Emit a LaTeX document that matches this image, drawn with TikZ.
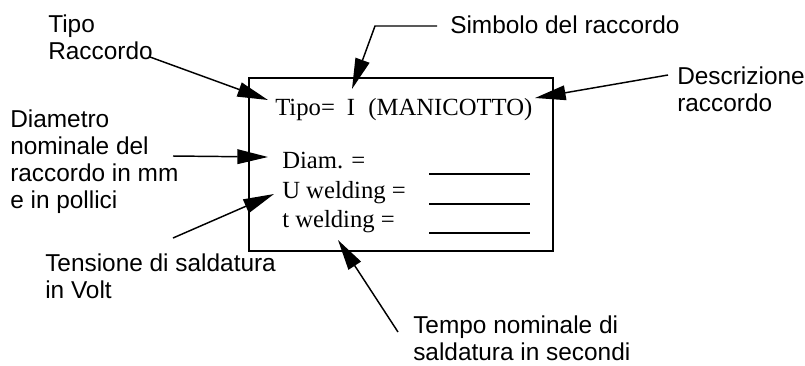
\documentclass[tikz,border=0pt]{standalone}
\usepackage{fontspec}
\setmainfont{Liberation Serif}
\newfontfamily\lblfont{Liberation Sans}
\usetikzlibrary{arrows.meta}
\tikzset{
  callout/.style={font=\lblfont\fontsize{18.3}{20.2}\selectfont, anchor=north west, inner sep=0pt, align=left},
  field/.style={font=\fontsize{18.5}{21}\selectfont, anchor=base west, inner sep=0pt},
  pointer/.style={line width=1.1pt, -{Triangle[length=23pt,width=11pt]}},
  blank/.style={line width=1.5pt}
}
\begin{document}
\begin{tikzpicture}[x=0.75pt,y=0.75pt,yscale=-1]
\useasboundingbox (0,0) rectangle (805,365);

%Shape: Rectangle
\draw [line width=1.6pt] (249,78) rectangle (553,251) ;

% Text Node
\draw (275,115) node [field] (tipo) {Tipo=\hspace{9pt}I\hspace{10pt}(MANICOTTO)};
% Text Node
\draw (282,168) node [field] (diam) {Diam. =};
% Text Node
\draw (282,198) node [field] (uweld) {U welding =};
% Text Node
\draw (282,227) node [field] (tweld) {t welding =};

%Straight Lines
\draw [blank] (429,173.5) -- (530,173.5) ;
\draw [blank] (429,203.5) -- (530,203.5) ;
\draw [blank] (429,232.5) -- (530,232.5) ;

% Text Node
\draw (48,15) node [callout] (tiporacc) {Tipo\\Raccordo};
% Text Node
\draw (450,16) node [callout] (simb) {Simbolo del raccordo};
% Text Node
\draw (677,67) node [callout] (descr) {Descrizione\\raccordo};
% Text Node
\draw (10,110) node [callout] (diamtxt) {Diametro\\nominale del\\raccordo in mm\\e in pollici};
% Text Node
\draw (45,254) node [callout] (tens) {Tensione di saldatura\\in Volt};
% Text Node
\draw (413,316) node [callout] (tempo) {Tempo nominale di\\saldatura in secondi};

% Arrow tips
\coordinate (tipTipo) at (268,100);
\coordinate (tipSimb) at (352,89);
\coordinate (tipDescr) at (535,98);
\coordinate (tipDiam) at (268,157);
\coordinate (tipU) at (274,194);
\coordinate (tipT) at (338,240);
% Arrow tails
\coordinate (tailTipo) at (150,57);
\coordinate (tailSimb) at (437,26);
\coordinate (tailDescr) at (668,75);
\coordinate (tailDiam) at (173,156);
\coordinate (tailU) at (173,238);
\coordinate (tailT) at (398,332);

%Straight Lines
\draw [pointer] (tailTipo) -- (tipTipo) ;
\draw [pointer] (tailSimb) -- (375,26) -- (tipSimb) ;
\draw [pointer] (tailDescr) -- (tipDescr) ;
\draw [pointer] (tailDiam) -- (tipDiam) ;
\draw [pointer] (tailU) -- (tipU) ;
\draw [pointer] (tailT) -- (tipT) ;

\end{tikzpicture}
\end{document}
